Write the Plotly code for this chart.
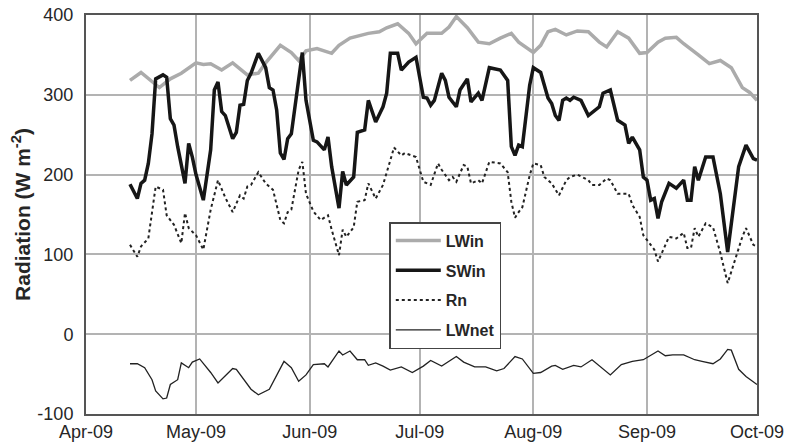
import plotly.graph_objects as go

# Incoming longwave radiation (W m-2)
lwin_dates = ["2009-04-13", "2009-04-16", "2009-04-21", "2009-04-24", "2009-04-27", "2009-04-29",
              "2009-05-01", "2009-05-03", "2009-05-05", "2009-05-08", "2009-05-11", "2009-05-15",
              "2009-05-18", "2009-05-20", "2009-05-24", "2009-05-27", "2009-05-29", "2009-05-31",
              "2009-06-03", "2009-06-07", "2009-06-09", "2009-06-12", "2009-06-15", "2009-06-17",
              "2009-06-20", "2009-06-22", "2009-06-25", "2009-06-28", "2009-06-30", "2009-07-03",
              "2009-07-07", "2009-07-09", "2009-07-11", "2009-07-14", "2009-07-17", "2009-07-20",
              "2009-07-23", "2009-07-26", "2009-07-28", "2009-08-01", "2009-08-03", "2009-08-05",
              "2009-08-07", "2009-08-10", "2009-08-13", "2009-08-16", "2009-08-19", "2009-08-21",
              "2009-08-24", "2009-08-27", "2009-08-30", "2009-09-01", "2009-09-04", "2009-09-06",
              "2009-09-09", "2009-09-11", "2009-09-15", "2009-09-18", "2009-09-21", "2009-09-24",
              "2009-09-27", "2009-09-29", "2009-10-01"]
lwin_vals = [318, 328, 309, 320, 327, 333,
             340, 338, 339, 331, 340, 325,
             327, 340, 362, 353, 343, 355,
             358, 352, 362, 371, 375, 377,
             379, 384, 389, 377, 364, 377,
             377, 385, 398, 384, 366, 364,
             371, 377, 366, 353, 362, 379,
             382, 375, 380, 379, 366, 360,
             379, 371, 352, 353, 366, 371,
             372, 364, 350, 339, 343, 334,
             309, 303, 293]

# Incoming shortwave radiation (W m-2)
swin_dates = ["2009-04-13", "2009-04-15", "2009-04-16", "2009-04-17", "2009-04-18", "2009-04-19",
              "2009-04-20", "2009-04-22", "2009-04-23", "2009-04-24", "2009-04-25", "2009-04-26",
              "2009-04-28", "2009-04-29", "2009-04-30", "2009-05-01", "2009-05-03", "2009-05-05",
              "2009-05-06", "2009-05-07", "2009-05-08", "2009-05-09", "2009-05-11", "2009-05-12",
              "2009-05-13", "2009-05-14", "2009-05-15", "2009-05-16", "2009-05-18", "2009-05-20",
              "2009-05-21", "2009-05-22", "2009-05-23", "2009-05-24", "2009-05-25", "2009-05-26",
              "2009-05-27", "2009-05-29", "2009-05-30", "2009-05-31", "2009-06-02", "2009-06-03",
              "2009-06-05", "2009-06-06", "2009-06-07", "2009-06-09", "2009-06-10", "2009-06-11",
              "2009-06-13", "2009-06-14", "2009-06-16", "2009-06-17", "2009-06-19", "2009-06-21",
              "2009-06-22", "2009-06-23", "2009-06-25", "2009-06-26", "2009-06-28", "2009-06-30",
              "2009-07-02", "2009-07-03", "2009-07-04", "2009-07-05", "2009-07-07", "2009-07-08",
              "2009-07-09", "2009-07-11", "2009-07-12", "2009-07-14", "2009-07-15", "2009-07-17",
              "2009-07-18", "2009-07-20", "2009-07-23", "2009-07-25", "2009-07-26", "2009-07-27",
              "2009-07-28", "2009-07-29", "2009-07-31", "2009-08-01", "2009-08-03", "2009-08-05",
              "2009-08-06", "2009-08-07", "2009-08-08", "2009-08-09", "2009-08-10", "2009-08-11",
              "2009-08-12", "2009-08-14", "2009-08-16", "2009-08-19", "2009-08-20", "2009-08-22",
              "2009-08-24", "2009-08-26", "2009-08-27", "2009-08-28", "2009-08-30", "2009-08-31",
              "2009-09-01", "2009-09-02", "2009-09-03", "2009-09-04", "2009-09-05", "2009-09-07",
              "2009-09-09", "2009-09-11", "2009-09-12", "2009-09-13", "2009-09-14", "2009-09-15",
              "2009-09-17", "2009-09-19", "2009-09-21", "2009-09-23", "2009-09-26", "2009-09-28",
              "2009-09-30", "2009-10-01"]
swin_vals = [188, 170, 189, 193, 214, 251,
             320, 325, 322, 270, 262, 235,
             189, 239, 222, 200, 168, 231,
             306, 316, 279, 274, 245, 253,
             287, 288, 318, 327, 352, 334,
             309, 306, 281, 227, 219, 245,
             251, 322, 353, 293, 243, 241,
             231, 247, 210, 158, 204, 187,
             197, 253, 256, 293, 266, 285,
             302, 352, 352, 331, 341, 347,
             297, 296, 287, 293, 327, 318,
             297, 285, 306, 320, 291, 302,
             293, 334, 331, 318, 235, 224,
             237, 235, 312, 334, 328, 296,
             289, 274, 268, 293, 296, 293,
             297, 293, 274, 285, 302, 306,
             268, 262, 239, 247, 231, 197,
             193, 168, 170, 145, 166, 189,
             183, 193, 168, 168, 210, 193,
             222, 222, 176, 103, 210, 237,
             220, 218]

# Net radiation (W m-2)
rn_dates = ["2009-04-13", "2009-04-15", "2009-04-16", "2009-04-18", "2009-04-20", "2009-04-22",
            "2009-04-23", "2009-04-25", "2009-04-27", "2009-04-28", "2009-04-29", "2009-05-01",
            "2009-05-03", "2009-05-05", "2009-05-07", "2009-05-09", "2009-05-11", "2009-05-13",
            "2009-05-14", "2009-05-15", "2009-05-16", "2009-05-18", "2009-05-20", "2009-05-22",
            "2009-05-24", "2009-05-25", "2009-05-26", "2009-05-27", "2009-05-29", "2009-05-30",
            "2009-05-31", "2009-06-02", "2009-06-04", "2009-06-06", "2009-06-07", "2009-06-09",
            "2009-06-10", "2009-06-11", "2009-06-13", "2009-06-14", "2009-06-16", "2009-06-17",
            "2009-06-19", "2009-06-21", "2009-06-23", "2009-06-24", "2009-06-26", "2009-06-27",
            "2009-06-30", "2009-07-01", "2009-07-02", "2009-07-04", "2009-07-06", "2009-07-07",
            "2009-07-09", "2009-07-10", "2009-07-11", "2009-07-13", "2009-07-14", "2009-07-15",
            "2009-07-17", "2009-07-18", "2009-07-20", "2009-07-23", "2009-07-25", "2009-07-26",
            "2009-07-27", "2009-07-28", "2009-07-29", "2009-07-31", "2009-08-01", "2009-08-03",
            "2009-08-04", "2009-08-06", "2009-08-07", "2009-08-08", "2009-08-10", "2009-08-11",
            "2009-08-13", "2009-08-16", "2009-08-17", "2009-08-19", "2009-08-21", "2009-08-22",
            "2009-08-24", "2009-08-27", "2009-08-28", "2009-08-30", "2009-08-31", "2009-09-02",
            "2009-09-03", "2009-09-04", "2009-09-05", "2009-09-07", "2009-09-09", "2009-09-11",
            "2009-09-12", "2009-09-13", "2009-09-14", "2009-09-15", "2009-09-17", "2009-09-19",
            "2009-09-21", "2009-09-23", "2009-09-25", "2009-09-27", "2009-09-28", "2009-09-30",
            "2009-10-01"]
rn_vals = [112, 97, 110, 120, 185, 181,
           149, 137, 114, 152, 133, 124,
           106, 156, 193, 171, 153, 174,
           170, 185, 187, 203, 189, 181,
           143, 139, 153, 156, 206, 216,
           176, 154, 143, 149, 131, 99,
           131, 122, 134, 166, 168, 189,
           170, 187, 218, 234, 224, 227,
           222, 206, 191, 187, 214, 206,
           193, 197, 191, 212, 210, 189,
           193, 189, 216, 214, 203, 166,
           146, 153, 159, 199, 214, 212,
           197, 189, 181, 174, 193, 197,
           200, 193, 187, 187, 195, 193,
           176, 176, 162, 147, 124, 112,
           106, 91, 102, 122, 120, 127,
           108, 108, 133, 122, 139, 134,
           102, 64, 93, 122, 133, 112,
           110]

# Net longwave radiation (W m-2)
lwnet_dates = ["2009-04-13", "2009-04-15", "2009-04-17", "2009-04-19", "2009-04-20", "2009-04-22",
               "2009-04-23", "2009-04-24", "2009-04-26", "2009-04-27", "2009-04-29", "2009-04-30",
               "2009-05-02", "2009-05-05", "2009-05-07", "2009-05-11", "2009-05-12", "2009-05-16",
               "2009-05-18", "2009-05-21", "2009-05-25", "2009-05-27", "2009-05-29", "2009-05-31",
               "2009-06-02", "2009-06-05", "2009-06-06", "2009-06-09", "2009-06-10", "2009-06-12",
               "2009-06-14", "2009-06-16", "2009-06-17", "2009-06-19", "2009-06-21", "2009-06-23",
               "2009-06-26", "2009-06-29", "2009-07-02", "2009-07-04", "2009-07-07", "2009-07-11",
               "2009-07-13", "2009-07-16", "2009-07-19", "2009-07-22", "2009-07-24", "2009-07-27",
               "2009-07-29", "2009-08-01", "2009-08-03", "2009-08-06", "2009-08-07", "2009-08-09",
               "2009-08-12", "2009-08-14", "2009-08-17", "2009-08-19", "2009-08-20", "2009-08-22",
               "2009-08-25", "2009-08-27", "2009-08-28", "2009-08-31", "2009-09-02", "2009-09-04",
               "2009-09-06", "2009-09-08", "2009-09-11", "2009-09-14", "2009-09-16", "2009-09-19",
               "2009-09-21", "2009-09-23", "2009-09-24", "2009-09-26", "2009-09-28", "2009-10-01"]
lwnet_vals = [-37, -37, -42, -57, -71, -81,
              -80, -63, -57, -36, -42, -35,
              -31, -48, -61, -43, -44, -69,
              -76, -69, -34, -42, -59, -51,
              -38, -37, -41, -21, -26, -21,
              -32, -32, -39, -36, -40, -45,
              -41, -48, -40, -33, -40, -28,
              -35, -41, -41, -46, -43, -28,
              -31, -49, -48, -40, -39, -44,
              -39, -41, -32, -40, -44, -51,
              -38, -35, -34, -32, -27, -21,
              -27, -26, -26, -32, -34, -37,
              -31, -19, -20, -44, -53, -63]

month_ticks = ["2009-04-01", "2009-05-01", "2009-06-01", "2009-07-01",
               "2009-08-01", "2009-09-01", "2009-10-01"]
month_labels = ["Apr-09", "May-09", "Jun-09", "Jul-09", "Aug-09", "Sep-09", "Oct-09"]
y_ticks = [-100, 0, 100, 200, 300, 400]
y_labels = ["-100", "0", "100", "200", "300", "400"]

FONT = "Liberation Sans, Arial, sans-serif"
TEXT = "#262626"

fig = go.Figure()
fig.add_trace(go.Scatter(x=lwin_dates, y=lwin_vals, name="LWin", mode="lines",
                         legendgroup="a",
                         line=dict(color="#ababab", width=3.5)))
fig.add_trace(go.Scatter(x=swin_dates, y=swin_vals, name="SWin", mode="lines",
                         legendgroup="b",
                         line=dict(color="#161616", width=3.5)))
fig.add_trace(go.Scatter(x=rn_dates, y=rn_vals, name="Rn", mode="lines",
                         legendgroup="c",
                         line=dict(color="#222222", width=2, dash="dot")))
fig.add_trace(go.Scatter(x=lwnet_dates, y=lwnet_vals, name="LWnet", mode="lines",
                         legendgroup="d",
                         line=dict(color="#222222", width=1.3)))

fig.update_layout(
    width=786, height=445,
    margin=dict(l=86, r=29, t=15, b=31),
    paper_bgcolor="white", plot_bgcolor="white",
    font=dict(family=FONT, color=TEXT, size=18),
    showlegend=True,
    legend=dict(
        x=0.452, y=0.481, xanchor="left", yanchor="top",
        bgcolor="white", bordercolor="#444444", borderwidth=1.5,
        font=dict(family=FONT, size=16, color=TEXT, weight="bold"),
        tracegroupgap=6, itemwidth=45, traceorder="grouped",
    ),
    xaxis=dict(
        type="date",
        range=["2009-04-01", "2009-10-01"],
        tickvals=month_ticks, ticktext=month_labels,
        showgrid=True, gridcolor="#b3b3b3", gridwidth=1.5,
        showline=True, mirror=True, linecolor="#555555", linewidth=2,
        ticks="", ticklabelstandoff=0, automargin=False,
        tickfont=dict(size=18, color=TEXT),
    ),
    yaxis=dict(
        range=[-100, 400],
        tickvals=y_ticks, ticktext=y_labels,
        showgrid=True, gridcolor="#b3b3b3", gridwidth=1.5,
        zeroline=False,
        showline=True, mirror=True, linecolor="#555555", linewidth=2,
        ticks="", ticklabelstandoff=7, automargin=False,
        tickfont=dict(size=18, color=TEXT),
        title=dict(text="Radiation (W m<sup>-2</sup>)", standoff=1,
                   font=dict(size=21, color=TEXT, weight="bold")),
    ),
)

fig.write_html("out.html")
